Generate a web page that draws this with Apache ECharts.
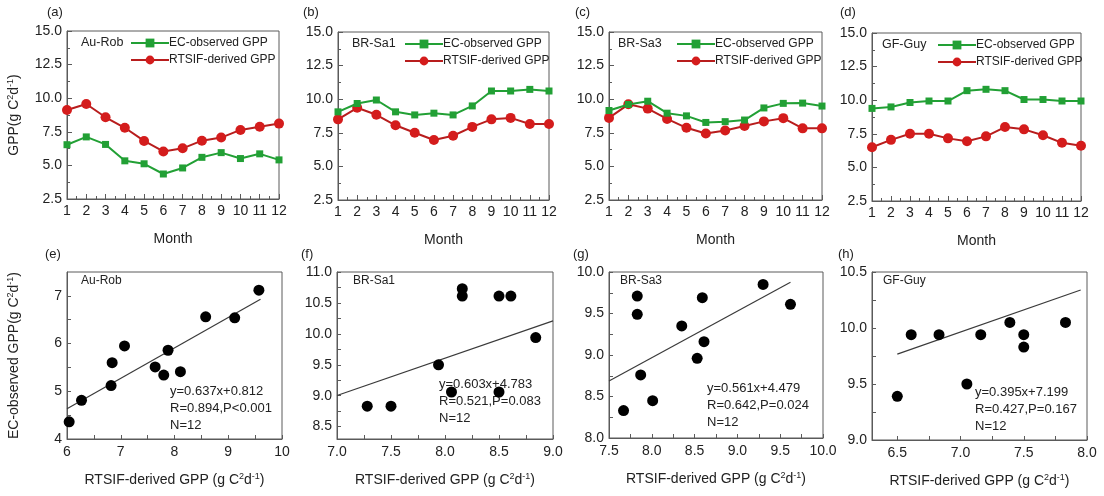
<!DOCTYPE html>
<html>
<head>
<meta charset="utf-8">
<script src="https://cdn.jsdelivr.net/npm/echarts@6/dist/echarts.min.js"></script>
<style>
html, body { margin: 0; background: #fff; }
#main { width: 1104px; height: 496px; }
</style>
</head>
<body>
<div id="main"></div>
<script>
// ---- data ----
const months = [1, 2, 3, 4, 5, 6, 7, 8, 9, 10, 11, 12]
const sites = ['Au-Rob', 'BR-Sa1', 'BR-Sa3', 'GF-Guy']

// monthly EC-observed GPP and RTSIF-derived GPP per site
const ecAuRob    = [6.54, 7.12, 6.56, 5.34, 5.12, 4.36, 4.81, 5.60, 5.95, 5.51, 5.86, 5.41]
const rtsifAuRob = [9.12, 9.57, 8.58, 7.80, 6.82, 6.04, 6.27, 6.84, 7.07, 7.64, 7.88, 8.11]
const ecBRSa1    = [9.06, 9.68, 9.94, 9.06, 8.83, 8.96, 8.83, 9.50, 10.61, 10.61, 10.73, 10.61]
const rtsifBRSa1 = [8.50, 9.36, 8.84, 8.06, 7.50, 6.96, 7.28, 7.94, 8.50, 8.61, 8.16, 8.16]
const ecBRSa3    = [9.16, 9.61, 9.85, 8.96, 8.76, 8.27, 8.33, 8.45, 9.35, 9.69, 9.71, 9.49]
const rtsifBRSa3 = [8.61, 9.62, 9.30, 8.53, 7.87, 7.45, 7.67, 8.01, 8.35, 8.59, 7.83, 7.83]
const ecGFGuy    = [9.39, 9.50, 9.83, 9.94, 9.94, 10.71, 10.81, 10.71, 10.05, 10.05, 9.94, 9.94]
const rtsifGFGuy = [6.50, 7.05, 7.50, 7.50, 7.16, 6.94, 7.31, 8.00, 7.83, 7.39, 6.83, 6.61]

const ecData = [ecAuRob, ecBRSa1, ecBRSa3, ecGFGuy]
const rtsifData = [rtsifAuRob, rtsifBRSa1, rtsifBRSa3, rtsifGFGuy]

// regression line end points [x, y]
const fitAuRob = [[6.0, 4.634], [9.6, 6.927]]
const fitBRSa1 = [[7.0, 9.004], [9.0, 10.210]]
const fitBRSa3 = [[7.5, 8.687], [9.62, 9.876]]
const fitGFGuy = [[6.5, 9.767], [7.95, 10.339]]
const fits = [fitAuRob, fitBRSa1, fitBRSa3, fitGFGuy]
const fitLabels = [
  'y=0.637x+0.812\nR=0.894,P<0.001\nN=12',
  'y=0.603x+4.783\nR=0.521,P=0.083\nN=12',
  'y=0.561x+4.479\nR=0.642,P=0.024\nN=12',
  'y=0.395x+7.199\nR=0.427,P=0.167\nN=12'
]

// axes
const gppTicks = [2.5, 5.0, 7.5, 10.0, 12.5, 15.0]
const xRanges = [[6, 10], [7, 9], [7.5, 10], [6.3, 8]]
const yRanges = [[4, 7.5], [8.3, 11], [8, 10], [9, 10.5]]
const xTicks = [[6, 7, 8, 9, 10], [7.0, 7.5, 8.0, 8.5, 9.0], [7.5, 8.0, 8.5, 9.0, 9.5, 10.0], [6.5, 7.0, 7.5, 8.0]]
const yTicks = [[4, 5, 6, 7], [8.5, 9.0, 9.5, 10.0, 10.5, 11.0], [8.0, 8.5, 9.0, 9.5, 10.0], [9.0, 9.5, 10.0, 10.5]]
const xDigits = [0, 1, 1, 1]
const yDigits = [0, 1, 1, 1]
const topTags = ['(a)', '(b)', '(c)', '(d)']
const bottomTags = ['(e)', '(f)', '(g)', '(h)']

// ---- layout ----
const FONT = 'Liberation Sans, Arial, sans-serif'
const GREEN = '#22a035'
const RED = '#d41c1c'
const RED_LINE = '#b81d1d'
const AXIS = '#5a5a5a'
const TXT = '#222'

const topBoxes = [
  {left: 67, top: 31, width: 212, height: 168},
  {left: 338, top: 32, width: 211, height: 168},
  {left: 609, top: 32, width: 213, height: 168},
  {left: 872, top: 33, width: 209, height: 168}
]
const bottomBoxes = [
  {left: 67, top: 272, width: 215, height: 167},
  {left: 337, top: 272, width: 216, height: 167},
  {left: 609, top: 272, width: 214, height: 166},
  {left: 872, top: 272, width: 215, height: 168}
]
const legendLeft = [125, 399, 671, 932]
const topSiteX = [81, 352, 618, 882]
const bottomSiteX = [81, 353, 620, 883]
const fitTextPos = [[170, 383], [439, 376], [707, 380], [975, 384]]
const topTagX = [47, 303, 575, 840]

const rich = {
  n: {fontSize: 14, color: TXT, fontFamily: FONT},
  s: {fontSize: 9, color: TXT, fontFamily: FONT, padding: [0, 0, 8, 0]}
}
const unitName = '{n|(g C}{s|2}{n|d}{s|-1}{n|)}'

const chart = echarts.init(document.getElementById('main'))

const grid = []
const xAxis = []
const yAxis = []
const series = []
const legend = []
const graphic = []

function minorOf(ticks, range) {
  const out = []
  for (let k = 0; k < ticks.length - 1; k++) {
    const m = (ticks[k] + ticks[k + 1]) / 2
    if (m > range[0] && m < range[1]) out.push(m)
  }
  return ticks.concat(out)
}

sites.forEach((site, i) => {
  // monthly panel
  grid.push(Object.assign({show: true, borderColor: AXIS, borderWidth: 1, containLabel: false}, topBoxes[i]))
  const gi = grid.length - 1
  xAxis.push({
    type: 'value', gridIndex: gi, min: 1, max: 12, interval: 1,
    name: 'Month', nameLocation: 'middle', nameGap: 33,
    nameTextStyle: {fontSize: 14, color: TXT, fontFamily: FONT},
    axisLine: {lineStyle: {color: AXIS}},
    axisTick: {inside: true, length: 5, lineStyle: {color: AXIS}},
    minorTick: {show: true, splitNumber: 2, length: 3, lineStyle: {color: AXIS}},
    axisLabel: {fontSize: 14, color: TXT, fontFamily: FONT, margin: 5},
    splitLine: {show: false}
  })
  yAxis.push({
    type: 'value', gridIndex: gi, min: 2.5, max: 15, interval: 2.5,
    name: i === 0 ? '{n|GPP}' + unitName : '', nameLocation: 'middle', nameGap: 44,
    nameTextStyle: {rich: rich},
    axisLine: {lineStyle: {color: AXIS}},
    axisTick: {inside: true, length: 5, lineStyle: {color: AXIS}},
    minorTick: {show: true, splitNumber: 2, length: 3, lineStyle: {color: AXIS}},
    axisLabel: {fontSize: 14, color: TXT, fontFamily: FONT, margin: 5, formatter: v => v.toFixed(1)},
    splitLine: {show: false}
  })
  series.push({
    name: 'EC-observed GPP', type: 'line', xAxisIndex: gi, yAxisIndex: gi,
    data: months.map((m, k) => [m, ecData[i][k]]),
    symbol: 'rect', symbolSize: 7, color: GREEN,
    lineStyle: {color: GREEN, width: 2}, itemStyle: {color: GREEN}, z: 3
  })
  series.push({
    name: 'RTSIF-derived GPP', type: 'line', xAxisIndex: gi, yAxisIndex: gi,
    data: months.map((m, k) => [m, rtsifData[i][k]]),
    symbol: 'circle', symbolSize: 10, color: RED,
    lineStyle: {color: RED_LINE, width: 2}, itemStyle: {color: RED}, z: 2
  })
  legend.push({
    orient: 'vertical', left: legendLeft[i], top: topBoxes[i].top + 1,
    data: ['EC-observed GPP', 'RTSIF-derived GPP'],
    itemWidth: 38, itemHeight: 11, itemGap: 5,
    textStyle: {fontSize: 12, color: TXT, fontFamily: FONT, padding: [0, 0, 0, -5]},
    selectedMode: false
  })
  graphic.push({type: 'text', left: topSiteX[i], top: topBoxes[i].top + 5,
    style: {text: site, fontSize: 12.5, fill: TXT, fontFamily: FONT}})
  graphic.push({type: 'text', left: topTagX[i], top: 6,
    style: {text: topTags[i], fontSize: 13, fill: TXT, fontFamily: FONT}})

  // scatter panel
  grid.push(Object.assign({show: true, borderColor: AXIS, borderWidth: 1, containLabel: false}, bottomBoxes[i]))
  const gj = grid.length - 1
  xAxis.push({
    type: 'value', gridIndex: gj, min: xRanges[i][0], max: xRanges[i][1],
    name: '{n|RTSIF-derived GPP }' + unitName, nameLocation: 'middle', nameGap: 33,
    nameTextStyle: {rich: rich},
    axisLine: {lineStyle: {color: AXIS}},
    axisTick: {inside: true, length: 4, lineStyle: {color: AXIS}, customValues: minorOf(xTicks[i], xRanges[i])},
    axisLabel: {fontSize: 14, color: TXT, fontFamily: FONT, margin: 6, customValues: xTicks[i],
      formatter: v => v.toFixed(xDigits[i])},
    splitLine: {show: false}
  })
  yAxis.push({
    type: 'value', gridIndex: gj, min: yRanges[i][0], max: yRanges[i][1],
    name: i === 0 ? '{n|EC-observed GPP}' + unitName : '', nameLocation: 'middle', nameGap: 44,
    nameTextStyle: {rich: rich},
    axisLine: {lineStyle: {color: AXIS}},
    axisTick: {inside: true, length: 4, lineStyle: {color: AXIS}, customValues: minorOf(yTicks[i], yRanges[i])},
    axisLabel: {fontSize: 14, color: TXT, fontFamily: FONT, margin: 5, customValues: yTicks[i],
      formatter: v => v.toFixed(yDigits[i])},
    splitLine: {show: false}
  })
  series.push({
    name: site + ' scatter', type: 'scatter', xAxisIndex: gj, yAxisIndex: gj,
    data: months.map((m, k) => [rtsifData[i][k], ecData[i][k]]),
    symbol: 'circle', symbolSize: 11, itemStyle: {color: '#000', opacity: 1}, clip: true, z: 3
  })
  series.push({
    name: site + ' fit', type: 'line', xAxisIndex: gj, yAxisIndex: gj,
    data: fits[i], symbol: 'none', clip: true,
    lineStyle: {color: '#3a3a3a', width: 1.2}, z: 2
  })
  graphic.push({type: 'text', left: bottomSiteX[i], top: bottomBoxes[i].top + 3,
    style: {text: site, fontSize: 12, fill: TXT, fontFamily: FONT}})
  graphic.push({type: 'text', left: fitTextPos[i][0], top: fitTextPos[i][1],
    style: {text: fitLabels[i], fontSize: 13, lineHeight: 17, fill: TXT, fontFamily: FONT}})
  graphic.push({type: 'text', left: topTagX[i] - 2, top: 248,
    style: {text: bottomTags[i], fontSize: 13, fill: TXT, fontFamily: FONT}})
})

const option = {
  animation: false,
  backgroundColor: '#fff',
  textStyle: {fontFamily: FONT},
  grid: grid,
  xAxis: xAxis,
  yAxis: yAxis,
  legend: legend,
  series: series,
  graphic: graphic
}
chart.setOption(option)
</script>
</body>
</html>
